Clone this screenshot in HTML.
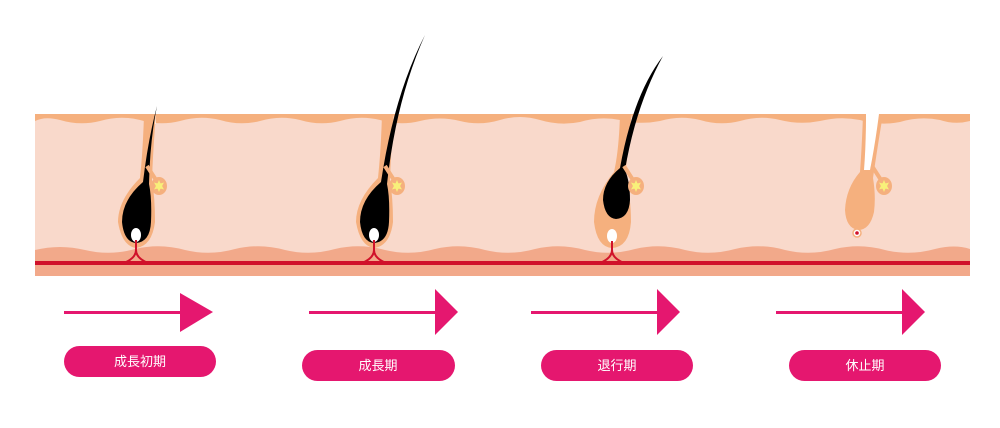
<!DOCTYPE html>
<html><head><meta charset="utf-8"><style>
html,body{margin:0;padding:0;background:#fff;}
svg{display:block}
text{font-family:"Liberation Sans","Noto Sans CJK JP",sans-serif;}
</style></head><body>
<svg width="1000" height="428" viewBox="0 0 1000 428" xmlns="http://www.w3.org/2000/svg">
<defs>
<g id="gland">
<path d="M-12 -20 L-3 -6" stroke="#f5b07e" stroke-width="4"/>
<ellipse cx="0" cy="0" rx="8" ry="9" fill="#f5b07e"/>
<polygon points="0,-6 1.5,-2.5 5,-3.5 3,0 5,3.5 1.5,2.5 0,6 -1.5,2.5 -5,3.5 -3,0 -5,-3.5 -1.5,-2.5" fill="#f8f07a"/>
<circle r="3.2" fill="#f8f07a"/>
</g>
</defs>
<rect x="35" y="114" width="935" height="162" fill="#f9d9cb"/>
<path d="M35 114 H970 V121 Q955 125 940 120 Q920 116 900 122 Q880 126 860 120 Q840 116 820 121 Q800 125 780 120 Q760 115 740 121 Q720 126 700 120 Q680 115 660 121 Q640 125 620 120 Q600 116 580 122 Q560 126 540 120 Q520 114 500 120 Q480 126 460 121 Q440 116 420 121 Q400 126 380 120 Q360 115 340 121 Q320 126 300 120 Q280 115 260 121 Q240 126 220 120 Q200 115 180 121 Q160 126 140 120 Q120 115 100 121 Q80 126 60 120 Q45 116 35 121 Z" fill="#f5b07e"/>
<path d="M35 250 Q60 244 85 250 Q110 256 135 249 Q160 243 185 250 Q210 256 235 249 Q260 243 285 250 Q310 256 335 249 Q360 243 385 250 Q410 256 435 249 Q460 243 485 250 Q510 256 535 249 Q560 243 585 250 Q610 256 635 249 Q660 243 685 250 Q710 256 735 249 Q760 243 785 250 Q810 256 835 249 Q860 243 885 250 Q910 256 935 249 Q955 244 970 249 V276 H35 Z" fill="#f2a98a"/>
<rect x="35" y="261" width="935" height="4" fill="#d0122a"/>

<!-- 1 -->
<g>
<rect x="144" y="112" width="12" height="12" fill="#fff"/>
<path d="M144 114 Q143 150 140 178 Q118 200 118 222 Q122 246 136 248 Q152 246 155 222 Q155 198 152 180 Q153 150 156 114 Z" fill="#f5b07e"/>
<path d="M157 106 Q148 140 143 182 Q122 200 122 222 Q124 242 136 243 Q150 242 151 222 Q152 198 149 184 Q150 140 157 106 Z" fill="#000"/>
<ellipse cx="136" cy="235" rx="5" ry="7" fill="#fff"/>
<use href="#gland" x="159" y="186"/>
<path d="M136 240 V250 Q136 258 124 263 M136 250 Q136 258 148 263" stroke="#d0122a" stroke-width="2" fill="none"/>
</g>
<!-- 2 -->
<g>
<rect x="382" y="112" width="12" height="12" fill="#fff"/>
<path d="M382 114 Q381 150 378 178 Q356 200 356 222 Q360 246 374 248 Q390 246 393 222 Q393 198 390 180 Q391 150 394 114 Z" fill="#f5b07e"/>
<path d="M425 35 Q394 95 381 182 Q360 200 360 222 Q362 242 374 243 Q388 242 389 222 Q390 198 387 184 Q396 100 425 35 Z" fill="#000"/>
<ellipse cx="374" cy="235" rx="5" ry="7" fill="#fff"/>
<use href="#gland" x="397" y="186"/>
<path d="M374 240 V250 Q374 258 362 263 M374 250 Q374 258 386 263" stroke="#d0122a" stroke-width="2" fill="none"/>
</g>
<!-- 3 -->
<g>
<rect x="620" y="112" width="12" height="12" fill="#fff"/>
<path d="M620 114 Q619 150 614 172 Q594 196 594 222 Q597 247 612 248 Q629 247 631 222 Q631 196 625 176 Q628 150 632 114 Z" fill="#f5b07e"/>
<path d="M663 56 Q633 95 620 168 Q603 182 603 200 Q605 218 616 219 Q629 218 630 200 Q630 182 625 170 Q636 105 663 56 Z" fill="#000"/>
<ellipse cx="612" cy="236" rx="5" ry="7" fill="#fff"/>
<use href="#gland" x="636" y="186"/>
<path d="M612 241 V250 Q612 258 600 263 M612 250 Q612 258 624 263" stroke="#d0122a" stroke-width="2" fill="none"/>
</g>
<!-- 4 -->
<g>
<path d="M866 112 L880 112 Q876 150 871 172 L863 172 Q866 140 866 112 Z" fill="#fff"/>
<path d="M863 114 L866 114 Q866 145 864 170 L870 170 Q875 145 879 114 L883 114 Q877 150 873 178 Q876 196 874 212 Q870 230 858 230 Q846 228 845 210 Q846 188 860 172 Q862 145 863 114 Z" fill="#f5b07e"/>
<use href="#gland" x="884" y="186"/>
<circle cx="857" cy="233" r="4" fill="#fff" stroke="#f5b07e" stroke-width="1.5"/><circle cx="857" cy="233" r="1.8" fill="#d0122a"/>
</g>

<g fill="#e5176f">
<rect x="64" y="311" width="118" height="3"/><polygon points="180,293 213,312 180,332"/>
<rect x="309" y="311" width="128" height="3"/><polygon points="435,289 458,312 435,335"/>
<rect x="531" y="311" width="128" height="3"/><polygon points="657,289 680,312 657,335"/>
<rect x="776" y="311" width="128" height="3"/><polygon points="902,289 925,312 902,335"/>
<rect x="64" y="346" width="152" height="31" rx="15.5"/>
<rect x="302" y="350" width="153" height="31" rx="15.5"/>
<rect x="541" y="350" width="152" height="31" rx="15.5"/>
<rect x="789" y="350" width="152" height="31" rx="15.5"/>
</g>
<g fill="#fff" font-size="13" text-anchor="middle">
<text x="140" y="366">成長初期</text>
<text x="378" y="370">成長期</text>
<text x="617" y="370">退行期</text>
<text x="865" y="370">休止期</text>
</g>
</svg>
</body></html>
